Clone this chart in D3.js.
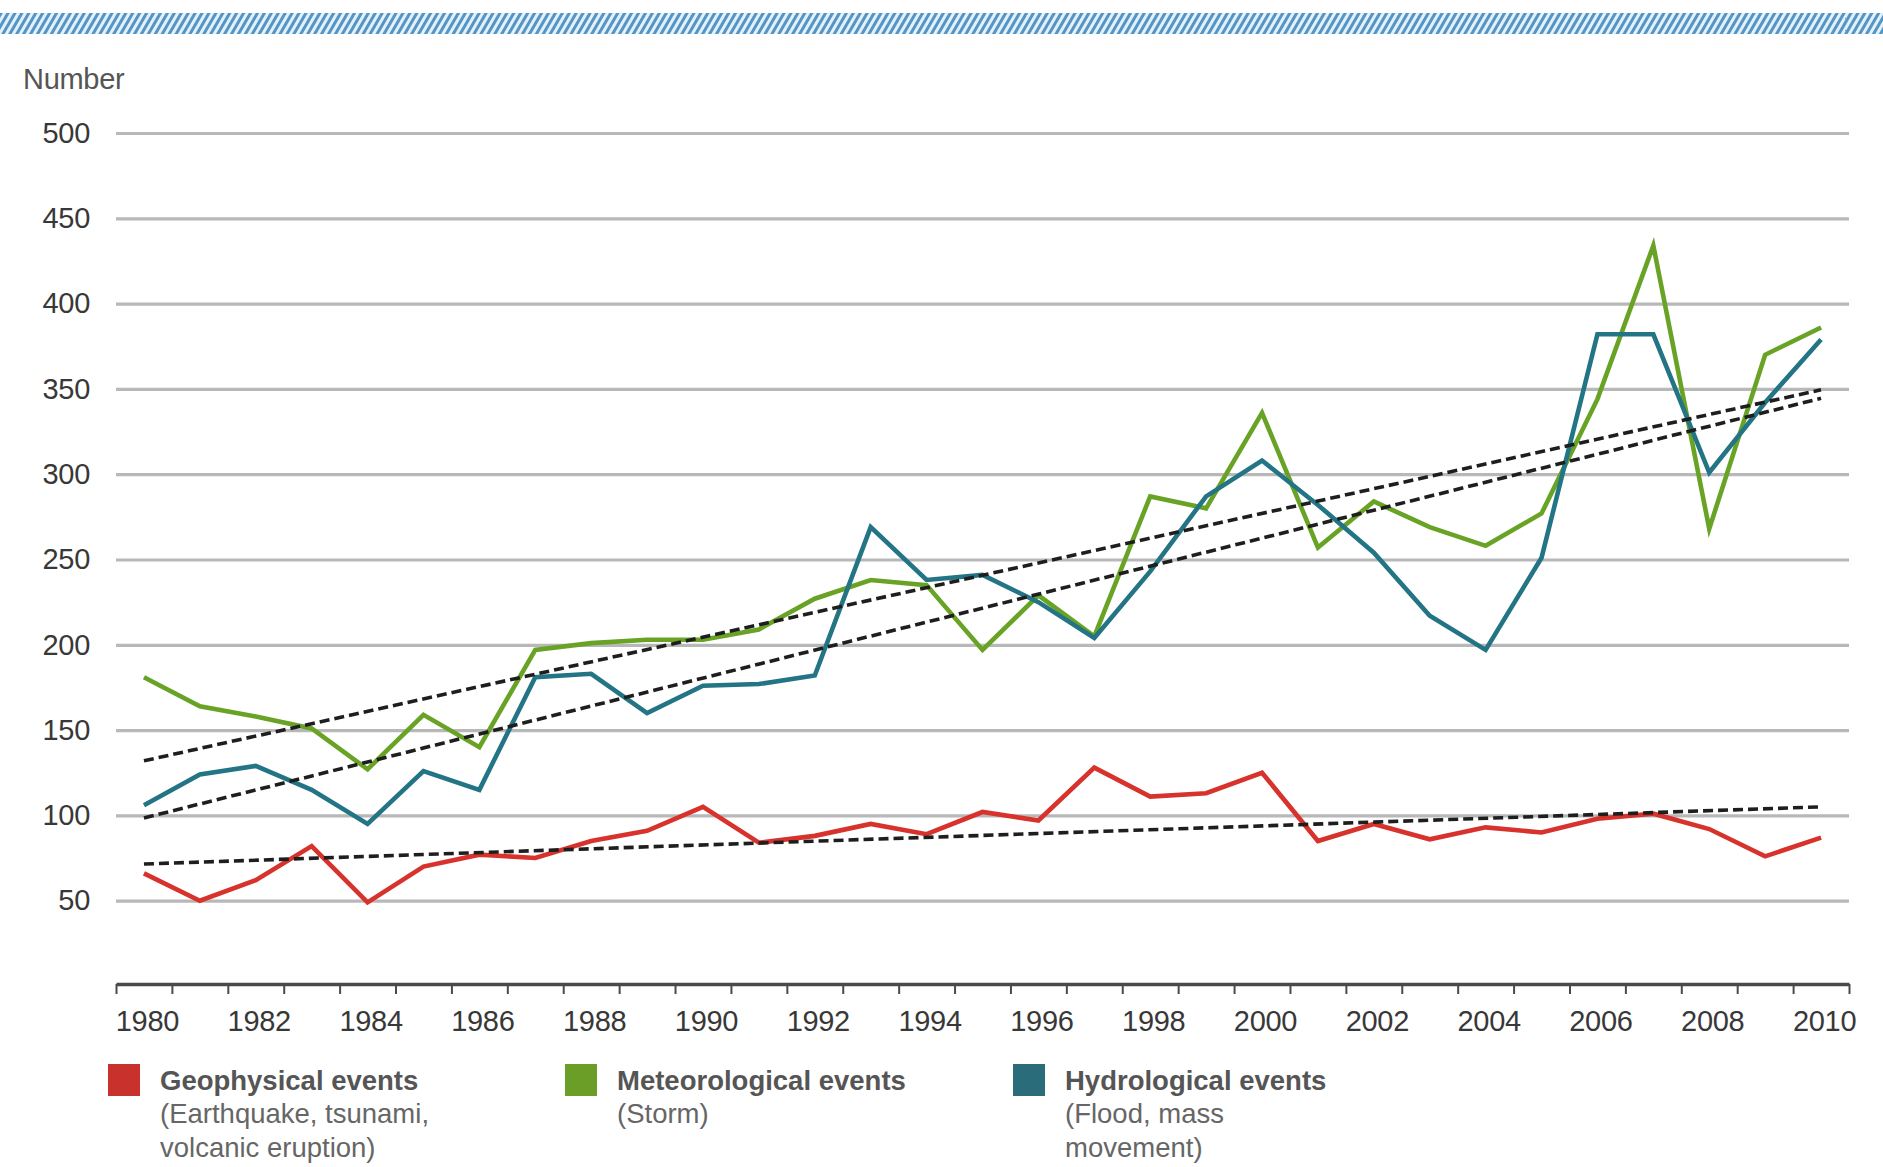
<!DOCTYPE html>
<html>
<head>
<meta charset="utf-8">
<script src="https://cdn.jsdelivr.net/npm/d3@7"></script>
<style>
  html, body { margin: 0; padding: 0; background: #fff; }
  svg { display: block; font-family: "Liberation Sans", Arial, sans-serif; }
</style>
</head>
<body>
<svg id="chart" width="1883" height="1167"></svg>
<script>
// ---- data ----
const years = d3.range(1980, 2011);
const geophysical = [66, 50, 62, 82, 49, 70, 77, 75, 85, 91, 105, 84, 88, 95, 89, 102, 97, 128, 111, 113, 125, 85, 95, 86, 93, 90, 98, 101, 92, 76, 87];
const meteorological = [181, 164, 158, 151, 127, 159, 140, 197, 201, 203, 203, 209, 227, 238, 235, 197, 229, 205, 287, 280, 336, 257, 284, 269, 258, 277, 344, 434, 268, 370, 386];
const hydrological = [106, 124, 129, 115, 95, 126, 115, 181, 183, 160, 176, 177, 182, 269, 238, 241, 225, 204, 243, 287, 308, 282, 254, 217, 197, 251, 382, 382, 301, 342, 379];
// trend lines (start 1980, end 2010)
const trendYears = [1980, 2010];
const trendGeo = [71.5, 105];
const trendMet = [132, 349.5];
const trendHyd = [98.5, 344.5];
const yTicks = [50, 100, 150, 200, 250, 300, 350, 400, 450, 500];
const xLabelYears = [1980, 1982, 1984, 1986, 1988, 1990, 1992, 1994, 1996, 1998, 2000, 2002, 2004, 2006, 2008, 2010];
const seriesNames = ["Geophysical events", "Meteorological events", "Hydrological events"];
const seriesNotes = [["(Earthquake, tsunami,", "volcanic eruption)"], ["(Storm)"], ["(Flood, mass", "movement)"]];
const seriesColors = ["#d7322c", "#69a325", "#237485"];
const legendColors = ["#c9312c", "#6b9e26", "#2a6c79"];

// ---- layout ----
const svg = d3.select("#chart");
const W = 1883;
const x = d3.scaleLinear().domain([1979.5, 2010.5]).range([116, 1849]);
const y = d3.scaleLinear().domain([0, 500]).range([986, 133]);

// top hatched band
const defs = svg.append("defs");
const pat = defs.append("pattern")
  .attr("id", "hatch").attr("patternUnits", "userSpaceOnUse")
  .attr("width", 6).attr("height", 6)
  .attr("patternTransform", "rotate(30)");
pat.append("rect").attr("width", 6).attr("height", 6).attr("fill", "#e6f0f8");
pat.append("rect").attr("width", 3).attr("height", 6).attr("fill", "#5296c8");
svg.append("rect").attr("x", 0).attr("y", 13).attr("width", W).attr("height", 21).attr("fill", "url(#hatch)");

// y axis label
svg.append("text").attr("x", 23).attr("y", 89)
  .attr("font-size", 29).attr("fill", "#555").attr("letter-spacing", "-0.3")
  .text("Number");

// gridlines + y labels
const yAxis = d3.axisLeft(y).tickValues(yTicks).tickSize(-(1849 - 116)).tickPadding(26);
const gy = svg.append("g").attr("transform", "translate(116,0)").call(yAxis);
gy.select(".domain").remove();
gy.selectAll(".tick line").attr("stroke", "#b8b8b8").attr("stroke-width", 3.2);
gy.selectAll(".tick text").attr("font-size", 29).attr("fill", "#383838")
  .attr("font-family", "Liberation Sans, Arial, sans-serif").attr("letter-spacing", "-0.3");

// x axis
const bounds = d3.range(1979.5, 2011, 1);
const xTickAxis = d3.axisBottom(x).tickValues(bounds).tickSize(10).tickSizeOuter(0).tickFormat("");
const gx = svg.append("g").attr("transform", "translate(0,984)").call(xTickAxis);
gx.select(".domain").attr("stroke", "#4a4a4a").attr("stroke-width", 3.5);
gx.selectAll(".tick line").attr("stroke", "#4a4a4a").attr("stroke-width", 2);

const xLabelAxis = d3.axisBottom(x).tickValues(xLabelYears).tickSize(0).tickPadding(26).tickFormat(d3.format("d"));
const gxl = svg.append("g").attr("transform", "translate(3,984)").call(xLabelAxis);
gxl.select(".domain").remove();
gxl.selectAll(".tick text").attr("font-size", 29).attr("fill", "#383838")
  .attr("font-family", "Liberation Sans, Arial, sans-serif").attr("letter-spacing", "-0.3");

// series lines
const line = d3.line().x((d, i) => x(years[i])).y(d => y(d));
const allSeries = [geophysical, meteorological, hydrological];
allSeries.forEach((s, k) => {
  svg.append("path").datum(s)
    .attr("d", line).attr("fill", "none")
    .attr("stroke", seriesColors[k]).attr("stroke-width", 4.6)
    .attr("stroke-linejoin", "miter");
});

// trend lines
const tline = d3.line().x((d, i) => x(trendYears[i])).y(d => y(d));
[trendGeo, trendMet, trendHyd].forEach(t => {
  svg.append("path").datum(t).attr("d", tline)
    .attr("fill", "none").attr("stroke", "#1e1e1e").attr("stroke-width", 3.6)
    .attr("stroke-dasharray", "10,5");
});

// legend
const legX = [108, 565, 1013];
seriesNames.forEach((name, k) => {
  const g = svg.append("g").attr("transform", `translate(${legX[k]},0)`);
  g.append("rect").attr("x", 0).attr("y", 1064).attr("width", 32).attr("height", 32).attr("fill", legendColors[k]);
  g.append("text").attr("x", 52).attr("y", 1090)
    .attr("font-size", 27.5).attr("font-weight", "bold").attr("fill", "#555")
    .text(name);
  seriesNotes[k].forEach((n, j) => {
    g.append("text").attr("x", 52).attr("y", 1123 + j * 34)
      .attr("font-size", 27.5).attr("fill", "#666").text(n);
  });
});
</script>
</body>
</html>
